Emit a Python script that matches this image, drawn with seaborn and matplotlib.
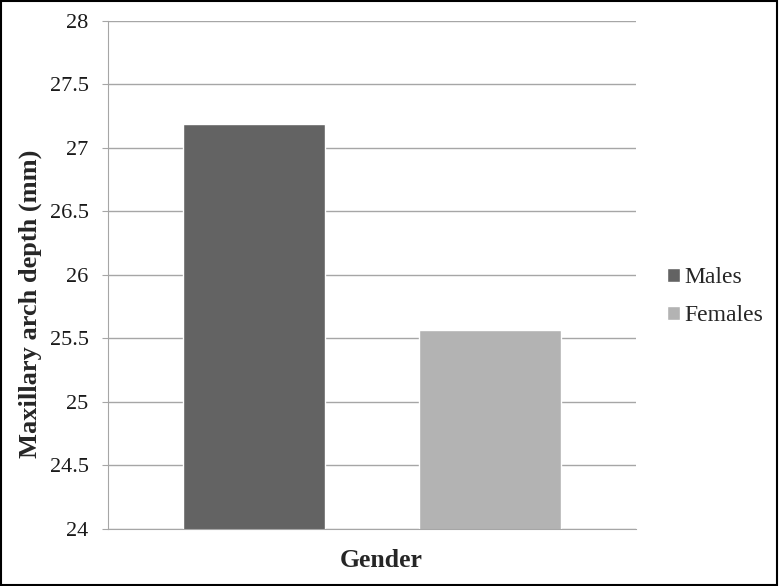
import matplotlib
matplotlib.use('Agg')
import matplotlib.pyplot as plt
import seaborn as sns
import pandas as pd

# dados do gráfico
generos = ['Males', 'Females']
profundidade = [27.19, 25.57]
cores = ['#636363', '#b3b3b3']
ticks_y = [24, 24.5, 25, 25.5, 26, 26.5, 27, 27.5, 28]
rotulos_y = ['24', '24.5', '25', '25.5', '26', '26.5', '27', '27.5', '28']

df = pd.DataFrame({'Gender': generos, 'Depth': profundidade})

sns.set_style('white')
plt.rcParams['font.family'] = 'serif'
plt.rcParams['font.serif'] = ['Liberation Serif', 'DejaVu Serif']
fonte = 'Liberation Serif'

fig = plt.figure(figsize=(7.79, 5.86), dpi=100)
ax = fig.add_axes([0.1386, 0.0973, 0.8164 - 0.1386, 0.9642 - 0.0973])

sns.barplot(data=df, x='Gender', y='Depth', hue='Gender', palette=cores,
            width=0.6, ax=ax, legend=True, saturation=1)

ax.set_ylim(24, 28)
ax.set_xlim(-0.615, 1.615)
ax.set_yticks(ticks_y)
ax.set_yticklabels(rotulos_y, fontsize=16, family=fonte, color='#1a1a1a')
ax.set_xticks([])
ax.yaxis.grid(True, color='#a6a6a6', linewidth=1)
ax.set_axisbelow(True)

for lado in ['top', 'right']:
    ax.spines[lado].set_visible(False)
ax.spines['left'].set_color('#a6a6a6')
ax.spines['bottom'].set_color('#a6a6a6')
ax.tick_params(axis='y', length=4, color='#a6a6a6', pad=10, left=True)

ax.set_ylabel('Maxillary arch depth (mm)', fontsize=19, fontweight='bold',
              family=fonte, va='center')
ax.yaxis.set_label_coords(-0.148, 0.443)
ax.set_xlabel('Gender', fontsize=18.5, fontweight='bold', family=fonte, va='center')
ax.xaxis.set_label_coords(0.517, -0.063)

ax.legend(loc='center left', bbox_to_anchor=(667 / 779, 0.4937), bbox_transform=fig.transFigure,
          frameon=False, prop={'family': fonte, 'size': 17}, handlelength=0.53,
          handleheight=0.53, handletextpad=0.22, labelspacing=0.71,
          borderpad=0, borderaxespad=0)

# borda da figura
fig.patches.append(plt.Rectangle((0.001, 0.002), 0.997, 0.996, transform=fig.transFigure,
                                 fill=False, edgecolor='black', linewidth=1.5))

fig.savefig('out.png', dpi=100)
